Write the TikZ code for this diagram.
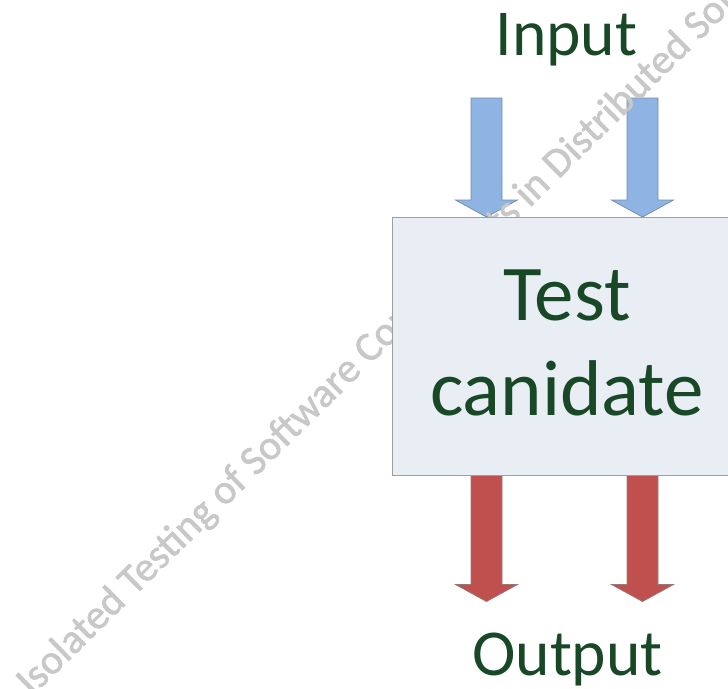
\documentclass[tikz,border=0pt]{standalone}
\usepackage{fontspec}
\setmainfont{Carlito}
\newfontfamily\wmfont[FakeBold=1.5]{Carlito}
\usetikzlibrary{calc}
\definecolor{txtgreen}{RGB}{24,72,38}
\definecolor{boxfill}{RGB}{233,237,244}
\definecolor{boxline}{RGB}{155,160,160}
\definecolor{inblue}{RGB}{141,180,226}
\definecolor{inblueline}{RGB}{120,140,170}
\definecolor{outred}{RGB}{192,80,77}
\definecolor{outredline}{RGB}{150,120,120}
\definecolor{wmfill}{RGB}{200,200,200}
\tikzset{
  candbox/.style={draw=boxline, line width=1.3pt, fill=boxfill, minimum width=350pt, minimum height=258pt, inner sep=0pt},
  bigtext/.style={text=txtgreen, font=\fontsize{79}{95}\selectfont, inner sep=0pt},
  iotext/.style={text=txtgreen, font=\fontsize{65.5}{70}\selectfont, inner sep=0pt},
  inarrow/.style={fill=inblue, draw=inblueline, line width=0.8pt, line join=miter},
  outarrow/.style={fill=outred, draw=outredline, line width=0.8pt, line join=miter},
  watermark/.style={text=wmfill, font=\wmfont\fontsize{41.5}{45}\selectfont, inner sep=0pt}
}
\newcommand\blockarrow[3]{%
  \filldraw[#1] ($(#2)+(-15.5,0)$) -- ($(#2)+(15.5,0)$) -- ($(#3)+(15.5,-17)$) -- ($(#3)+(31,-17)$) -- (#3) -- ($(#3)+(-31,-17)$) -- ($(#3)+(-15.5,-17)$) -- cycle;}
\begin{document}
\begin{tikzpicture}[x=1pt,y=-1pt]
\useasboundingbox (0,0) rectangle (728,688);
\clip (0,0) rectangle (728,688);
\coordinate (boxnw) at (392,217);
\coordinate (in1) at (486.5,98);
\coordinate (in2) at (642.5,98);
\coordinate (out1) at (486.5,601.5);
\coordinate (out2) at (642.5,601.5);
\path (392,217) coordinate (boxtop) (392,475) coordinate (boxbot);
\coordinate (in1tip) at (in1 |- boxtop);
\coordinate (in2tip) at (in2 |- boxtop);
\coordinate (out1start) at (out1 |- boxbot);
\coordinate (out2start) at (out2 |- boxbot);
\blockarrow{inarrow}{in1}{in1tip}
\blockarrow{inarrow}{in2}{in2tip}
\blockarrow{outarrow}{out1start}{out1}
\blockarrow{outarrow}{out2start}{out2}
% watermark
\node[watermark, anchor=base west, rotate=44.5] (wm) at (32,697) {Isolated Testing of Software Components in Distributed Software Systems};
% box
\node[candbox, anchor=north west] (cand) at (boxnw) {};
\node[bigtext, anchor=base] (t1) at (567,320) {Test};
\node[bigtext, anchor=base] (t2) at (567,415) {canidate};
\node[iotext, anchor=base] (inlabel) at (566.5,55) {Input};
\node[iotext, anchor=base] (outlabel) at (567.5,675) {Output};
\end{tikzpicture}
\end{document}
